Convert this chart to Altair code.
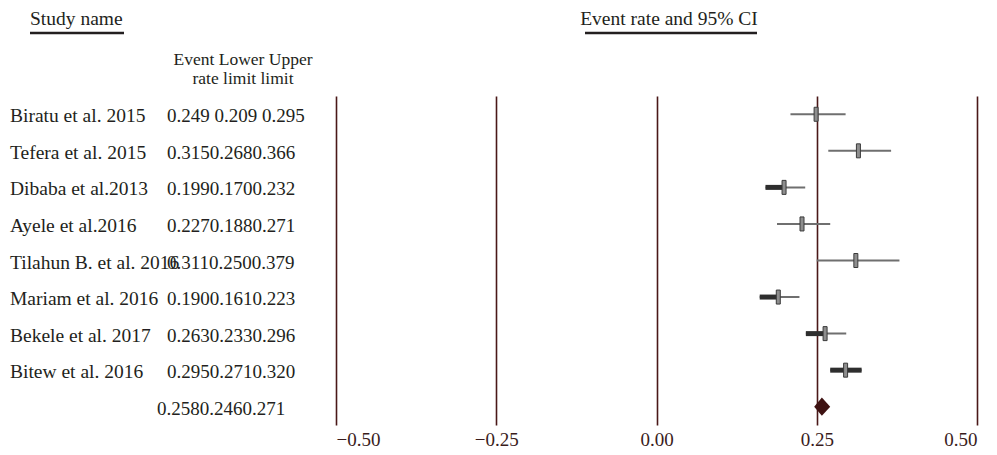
import altair as alt
import pandas as pd

# Forest plot: event rate and 95% CI per study, plus the pooled estimate
studies = [
    "Biratu et al. 2015",
    "Tefera et al. 2015",
    "Dibaba et al.2013",
    "Ayele et al.2016",
    "Tilahun B. et al. 2016",
    "Mariam et al. 2016",
    "Bekele et al. 2017",
    "Bitew et al. 2016",
]
event_rate = [0.249, 0.315, 0.199, 0.227, 0.311, 0.190, 0.263, 0.295]
lower_limit = [0.209, 0.268, 0.170, 0.188, 0.250, 0.161, 0.233, 0.271]
upper_limit = [0.295, 0.366, 0.232, 0.271, 0.379, 0.223, 0.296, 0.320]
# end of the heavy part of each CI bar (starts at the lower limit)
heavy_to = [None, None, 0.199, None, None, 0.190, 0.263, 0.320]
# spacing between the numeric columns of each row
col_gap = [" ", "", "", "", "", "", "", ""]

pooled_rate, pooled_lower, pooled_upper = 0.258, 0.246, 0.271
x_ticks = [-0.50, -0.25, 0.00, 0.25, 0.50]

FONT = "Liberation Serif"
TEXT = "#231f20"
MAROON = "#4a1818"
LEFT_PAD, TOP_PAD = 336, 96
W, H = 641, 329

rows = pd.DataFrame({
    "row": list(range(len(studies))),
    "study": studies,
    "rate": event_rate,
    "lower": lower_limit,
    "upper": upper_limit,
    "heavy_to": heavy_to,
})
rows["values"] = [
    f"{e:.3f}{g}{lo:.3f}{g}{hi:.3f}"
    for e, lo, hi, g in zip(event_rate, lower_limit, upper_limit, col_gap)
]
pooled_row = len(studies)
pooled = pd.DataFrame({
    "row": [pooled_row],
    "values": [f"{pooled_rate:.3f}{pooled_lower:.3f}{pooled_upper:.3f}"],
})
half = 0.25
diamond = pd.DataFrame({
    "x": [pooled_lower, pooled_rate, pooled_upper],
    "y": [pooled_row, pooled_row - half, pooled_row],
    "y2": [pooled_row, pooled_row + half, pooled_row],
})

xscale = alt.Scale(domain=[-0.5, 0.5], nice=False, zero=False)
yscale = alt.Scale(domain=[-0.5, pooled_row + 0.5], reverse=True, nice=False, zero=False)
xaxis = alt.Axis(values=x_ticks, format=".2f", title=None, grid=True,
                 gridColor=MAROON, gridWidth=1.6, gridOpacity=1,
                 domain=False, ticks=False, labelFont=FONT, labelFontSize=19,
                 labelColor="#3a1c1c", labelPadding=5)

base = alt.Chart(rows)

thin = base.mark_rule(color="#6f6f6f", strokeWidth=2).encode(
    x=alt.X("lower:Q", scale=xscale, axis=xaxis),
    x2="upper:Q",
    y=alt.Y("row:Q", scale=yscale, axis=None),
)
heavy = base.transform_filter("datum.heavy_to != null").mark_rule(
    color="#2e2e2e", strokeWidth=5
).encode(x="lower:Q", x2="heavy_to:Q", y="row:Q")
boxes = base.mark_tick(
    orient="vertical", thickness=4, size=14, color="#8e8e8e", opacity=1,
    stroke="#3a3a3a", strokeWidth=1,
).encode(x="rate:Q", y="row:Q")

pooled_mark = alt.Chart(diamond).mark_area(color="#3e1212", opacity=1).encode(
    x="x:Q", y="y:Q", y2="y2:Q"
)

names = base.mark_text(align="left", baseline="middle", font=FONT,
                       fontSize=19.5, color=TEXT, dy=2).encode(
    x=alt.value(10 - LEFT_PAD), y="row:Q", text="study:N"
)
values = base.mark_text(align="left", baseline="middle", font=FONT,
                        fontSize=19, color=TEXT, dy=2).encode(
    x=alt.value(167 - LEFT_PAD), y="row:Q", text="values:N"
)
pooled_values = alt.Chart(pooled).mark_text(
    align="left", baseline="middle", font=FONT, fontSize=19, color=TEXT, dy=2
).encode(x=alt.value(157 - LEFT_PAD), y="row:Q", text="values:N")


def label(txt, x, y, align="left", size=18):
    return alt.Chart(pd.DataFrame({"t": [txt]})).mark_text(
        align=align, baseline="middle", font=FONT, fontSize=size, color=TEXT
    ).encode(x=alt.value(x - LEFT_PAD), y=alt.value(y - TOP_PAD), text="t:N")


def underline(x1, x2, y):
    return alt.Chart(pd.DataFrame({"k": [0]})).mark_rule(
        color=TEXT, strokeWidth=2.5
    ).encode(x=alt.value(x1 - LEFT_PAD), x2=alt.value(x2 - LEFT_PAD),
             y=alt.value(y - TOP_PAD))


headers = (
    label("Study name", 30, 19, size=19.5)
    + underline(30, 124, 33)
    + label("Event rate and 95% CI", 669, 19, align="center", size=19.5)
    + underline(585, 757, 33)
    + label("Event Lower Upper", 243, 60, align="center", size=17.5)
    + label("rate limit limit", 243, 79, align="center", size=17.5)
)

chart = alt.layer(
    thin, heavy, boxes, pooled_mark, names, values, pooled_values, headers
).properties(
    width=W, height=H,
    autosize=alt.AutoSizeParams(type="none"),
    padding={"left": LEFT_PAD, "top": TOP_PAD, "right": 997 - LEFT_PAD - W,
             "bottom": 455 - TOP_PAD - H},
    background="white",
).configure_view(stroke=None)

chart.save("out.html", embed_options={"renderer": "svg", "actions": False})
